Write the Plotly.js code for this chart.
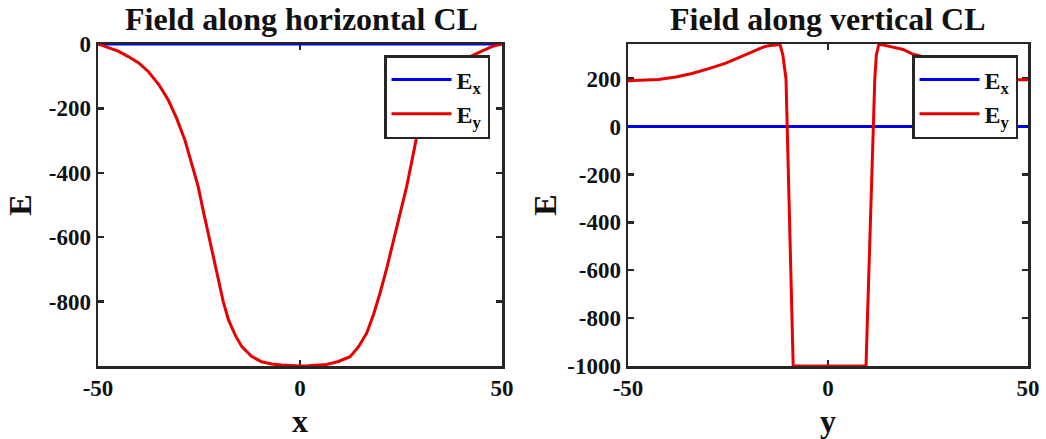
<!DOCTYPE html>
<html>
<head>
<meta charset="utf-8">
<script src="https://cdn.plot.ly/plotly-3.0.1.min.js"></script>
<style>html,body{margin:0;padding:0;background:#fff;}#plot{width:1046px;height:439px;}</style>
</head>
<body>
<div id="plot"></div>
<script>
// ---- Data: field along horizontal centre line ----
const xH = [-50, -47, -45, -42.5, -40, -37.5, -35, -32.6, -30.5, -28.5, -26.8, -25.2, -24, -22.7, -21.4, -20.2, -19, -17.7, -16, -14.4, -12, -9.5, -7, -4.5, -2, 0,
            2, 4.5, 6.6, 9.5, 12.4, 14.5, 16.5, 18.2, 19.8, 21.5, 23.1, 24.8, 26.4, 27.7, 28.9, 31, 33, 35, 37.5, 40, 42, 45, 47.5, 50];
const EyH = [0, -12, -22, -39, -58, -86, -125, -174, -232, -298, -370, -443, -515, -588, -662, -733, -800, -857, -905, -940, -970, -987, -994, -997, -999, -1000,
             -999, -997, -995, -986, -971, -940, -898, -840, -774, -695, -609, -525, -443, -365, -288, -215, -152, -110, -78, -55, -40, -22, -8, 0];
const xHx = [-50, 50];
const ExH = [0, 0];

// ---- Data: field along vertical centre line ----
const yV = [-50, -48.7, -45, -42.4, -38, -34, -30, -25.7, -22, -19, -16.5, -14.9, -13.3, -12, -11.3, -10.5, -8.7, 0, 9.5,
            11.7, 12.1, 12.7, 13.5, 15.9, 18.8, 20.9, 23.4, 26, 30, 34, 38, 42, 45, 48, 50];
const EyV = [192, 193, 195, 197, 207, 222, 241, 264, 290, 313, 330, 338, 342, 343, 300, 200, -1000, -1000, -1000,
             200, 300, 343, 342, 333, 322, 305, 293, 272, 245, 225, 210, 200, 196, 196, 196];
const yVx = [-50, 50];
const ExV = [0, 0];

const xTicks = [-50, 0, 50];
const xTickText = ['-50', '0', '50'];
const yTicksH = [-800, -600, -400, -200, 0];
const yTickTextH = ['-800', '-600', '-400', '-200', '0'];
const yTicksV = [-1000, -800, -600, -400, -200, 0, 200];
const yTickTextV = ['-1000', '-800', '-600', '-400', '-200', '0', '200'];

const FONT = 'Liberation Serif, Times New Roman, serif';
const BLUE = '#0000f0', RED = '#e80000', FRAME = '#262626';

function lineTrace(x, y, color, name, xa, ya, lg) {
  return {x: x, y: y, type: 'scatter', mode: 'lines', name: name,
          line: {color: color, width: 3}, xaxis: xa, yaxis: ya, legend: lg,
          legendgroup: lg + name, cliponaxis: false, hoverinfo: 'skip'};
}

const traces = [
  lineTrace(xHx, ExH, BLUE, 'E<sub>x</sub>', 'x', 'y', 'legend'),
  lineTrace(xH, EyH, RED, 'E<sub>y</sub>', 'x', 'y', 'legend'),
  lineTrace(yVx, ExV, BLUE, 'E<sub>x</sub>', 'x2', 'y2', 'legend2'),
  lineTrace(yV, EyV, RED, 'E<sub>y</sub>', 'x2', 'y2', 'legend2')
];

const W = 1046, H = 439;
const px = v => v / W, py = v => 1 - v / H;

function axisBase(extra) {
  return Object.assign({
    showline: true, mirror: 'ticks', linecolor: FRAME, linewidth: 2.5,
    ticks: 'inside', ticklen: 6, tickwidth: 2.5, tickcolor: FRAME,
    showgrid: false, zeroline: false, layer: 'below traces',
    tickfont: {family: FONT, size: 23, color: '#111', weight: 'bold'},
    fixedrange: true
  }, extra);
}

const legendBase = {
  bgcolor: '#ffffff', bordercolor: FRAME, borderwidth: 2.5,
  font: {family: FONT, size: 24, color: '#111', weight: 'bold'},
  xanchor: 'right', yanchor: 'top', tracegroupgap: 0, itemwidth: 60
};

const layout = {
  width: W, height: H,
  margin: {l: 0, r: 0, t: 0, b: 0},
  paper_bgcolor: '#fff', plot_bgcolor: '#fff',
  font: {family: FONT, color: '#111', weight: 'bold'},
  showlegend: true,
  xaxis: axisBase({domain: [px(98), px(502)], range: [-50, 50], tickvals: xTicks, ticktext: xTickText, anchor: 'y',
    title: {text: 'x', font: {family: FONT, size: 32, weight: 'bold'}, standoff: 15}}),
  yaxis: axisBase({domain: [py(366), py(44)], range: [-1000, 0], tickvals: yTicksH, ticktext: yTickTextH, anchor: 'x',
    title: {text: 'E', font: {family: FONT, size: 32, weight: 'bold'}, standoff: 8}}),
  xaxis2: axisBase({domain: [px(628), px(1028)], range: [-50, 50], tickvals: xTicks, ticktext: xTickText, anchor: 'y2',
    title: {text: 'y', font: {family: FONT, size: 32, weight: 'bold'}, standoff: 15}}),
  yaxis2: axisBase({domain: [py(366), py(44)], range: [-1000, 345], tickvals: yTicksV, ticktext: yTickTextV, anchor: 'x2',
    title: {text: 'E', font: {family: FONT, size: 32, weight: 'bold'}, standoff: 1}}),
  legend: Object.assign({}, legendBase, {x: px(490), y: py(55)}),
  legend2: Object.assign({}, legendBase, {x: px(1018), y: py(55)}),
  annotations: [
    {text: 'Field along horizontal CL', xref: 'paper', yref: 'paper', x: px(301), y: py(39),
     xanchor: 'center', yanchor: 'bottom', showarrow: false,
     font: {family: FONT, size: 32, color: '#111', weight: 'bold'}},
    {text: 'Field along vertical CL', xref: 'paper', yref: 'paper', x: px(828), y: py(39),
     xanchor: 'center', yanchor: 'bottom', showarrow: false,
     font: {family: FONT, size: 32, color: '#111', weight: 'bold'}}
  ]
};

Plotly.newPlot('plot', traces, layout, {staticPlot: true, displayModeBar: false});
</script>
</body>
</html>
